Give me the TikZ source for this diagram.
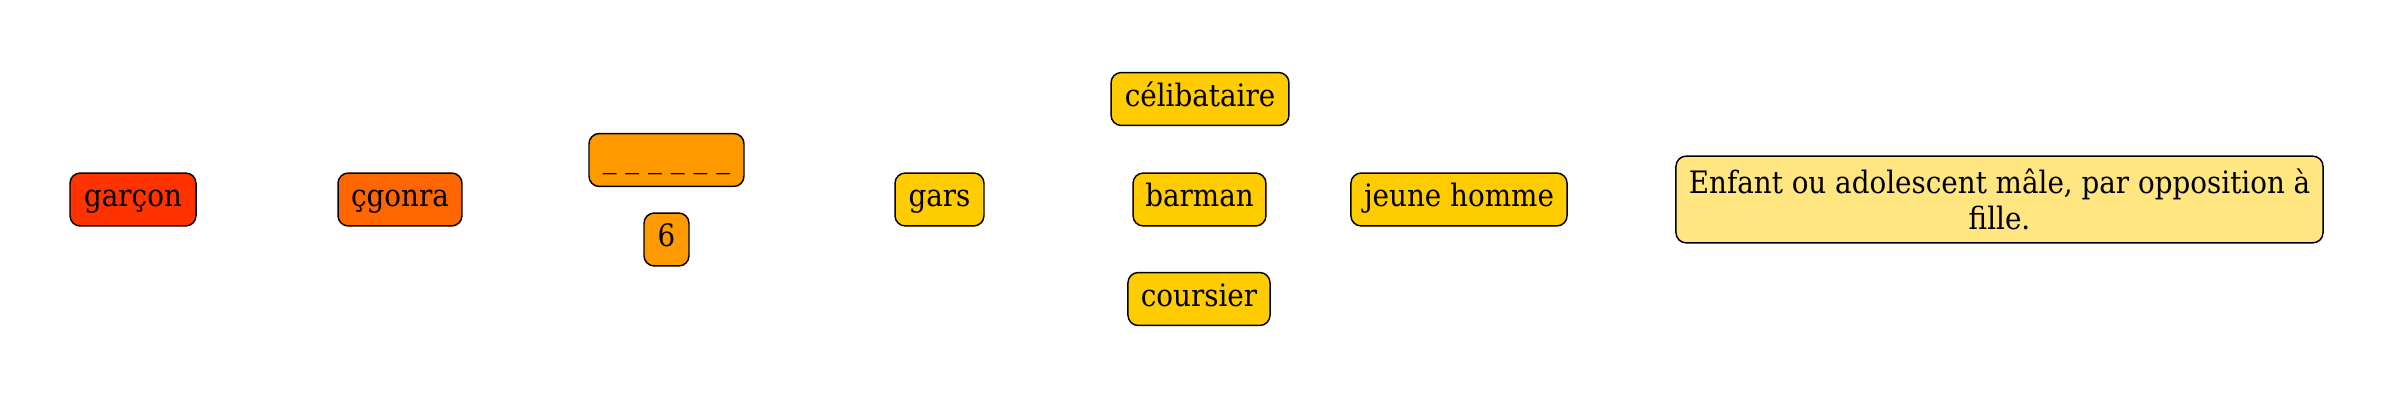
\documentclass[tikz,border=0pt]{standalone}
\usepackage{fontspec}
\setmainfont{DejaVu Serif Condensed}
\definecolor{cA}{HTML}{FF3300}
\definecolor{cB}{HTML}{FF6600}
\definecolor{cC}{HTML}{FF9900}
\definecolor{cD}{HTML}{FFCC00}
\definecolor{cE}{HTML}{FFE680}
\tikzset{
  wbox/.style={draw=black, line width=1pt, rounded corners=7pt, inner sep=0pt,
    minimum height=36pt, font=\fontsize{21}{24.5}\selectfont,
    text height=15pt, text depth=5pt, align=center},
}
\begin{document}
\begin{tikzpicture}[x=0.68pt, y=-0.68pt]
\useasboundingbox (0,0) rectangle (2400,400);
\node[wbox, fill=cA, minimum width=85.7pt] (garcon) at (133,199.5) {garçon};
\node[wbox, fill=cB, minimum width=84.3pt] (cgonra) at (400,199.5) {çgonra};
\node[wbox, fill=cC, minimum width=105.4pt] (blank) at (666.5,160) {\_ \_ \_ \_ \_ \_};
\node[wbox, fill=cC, minimum width=30.6pt] (six) at (666.5,239.5) {6};
\node[wbox, fill=cD, minimum width=60.5pt] (gars) at (939.5,199.5) {gars};
\node[wbox, fill=cD, minimum width=121pt] (celib) at (1200,99) {célibataire};
\node[wbox, fill=cD, minimum width=90.4pt] (barman) at (1199.5,199.5) {barman};
\node[wbox, fill=cD, minimum width=96.6pt] (coursier) at (1199,299) {coursier};
\node[wbox, fill=cD, minimum width=147pt] (jeune) at (1459,199.5) {jeune homme};
\node[wbox, fill=cE, minimum width=440pt, minimum height=59pt, text height=, text depth=] (def) at (1999.5,199.5) {Enfant ou adolescent mâle, par opposition à\\fille.};
\end{tikzpicture}
\end{document}
